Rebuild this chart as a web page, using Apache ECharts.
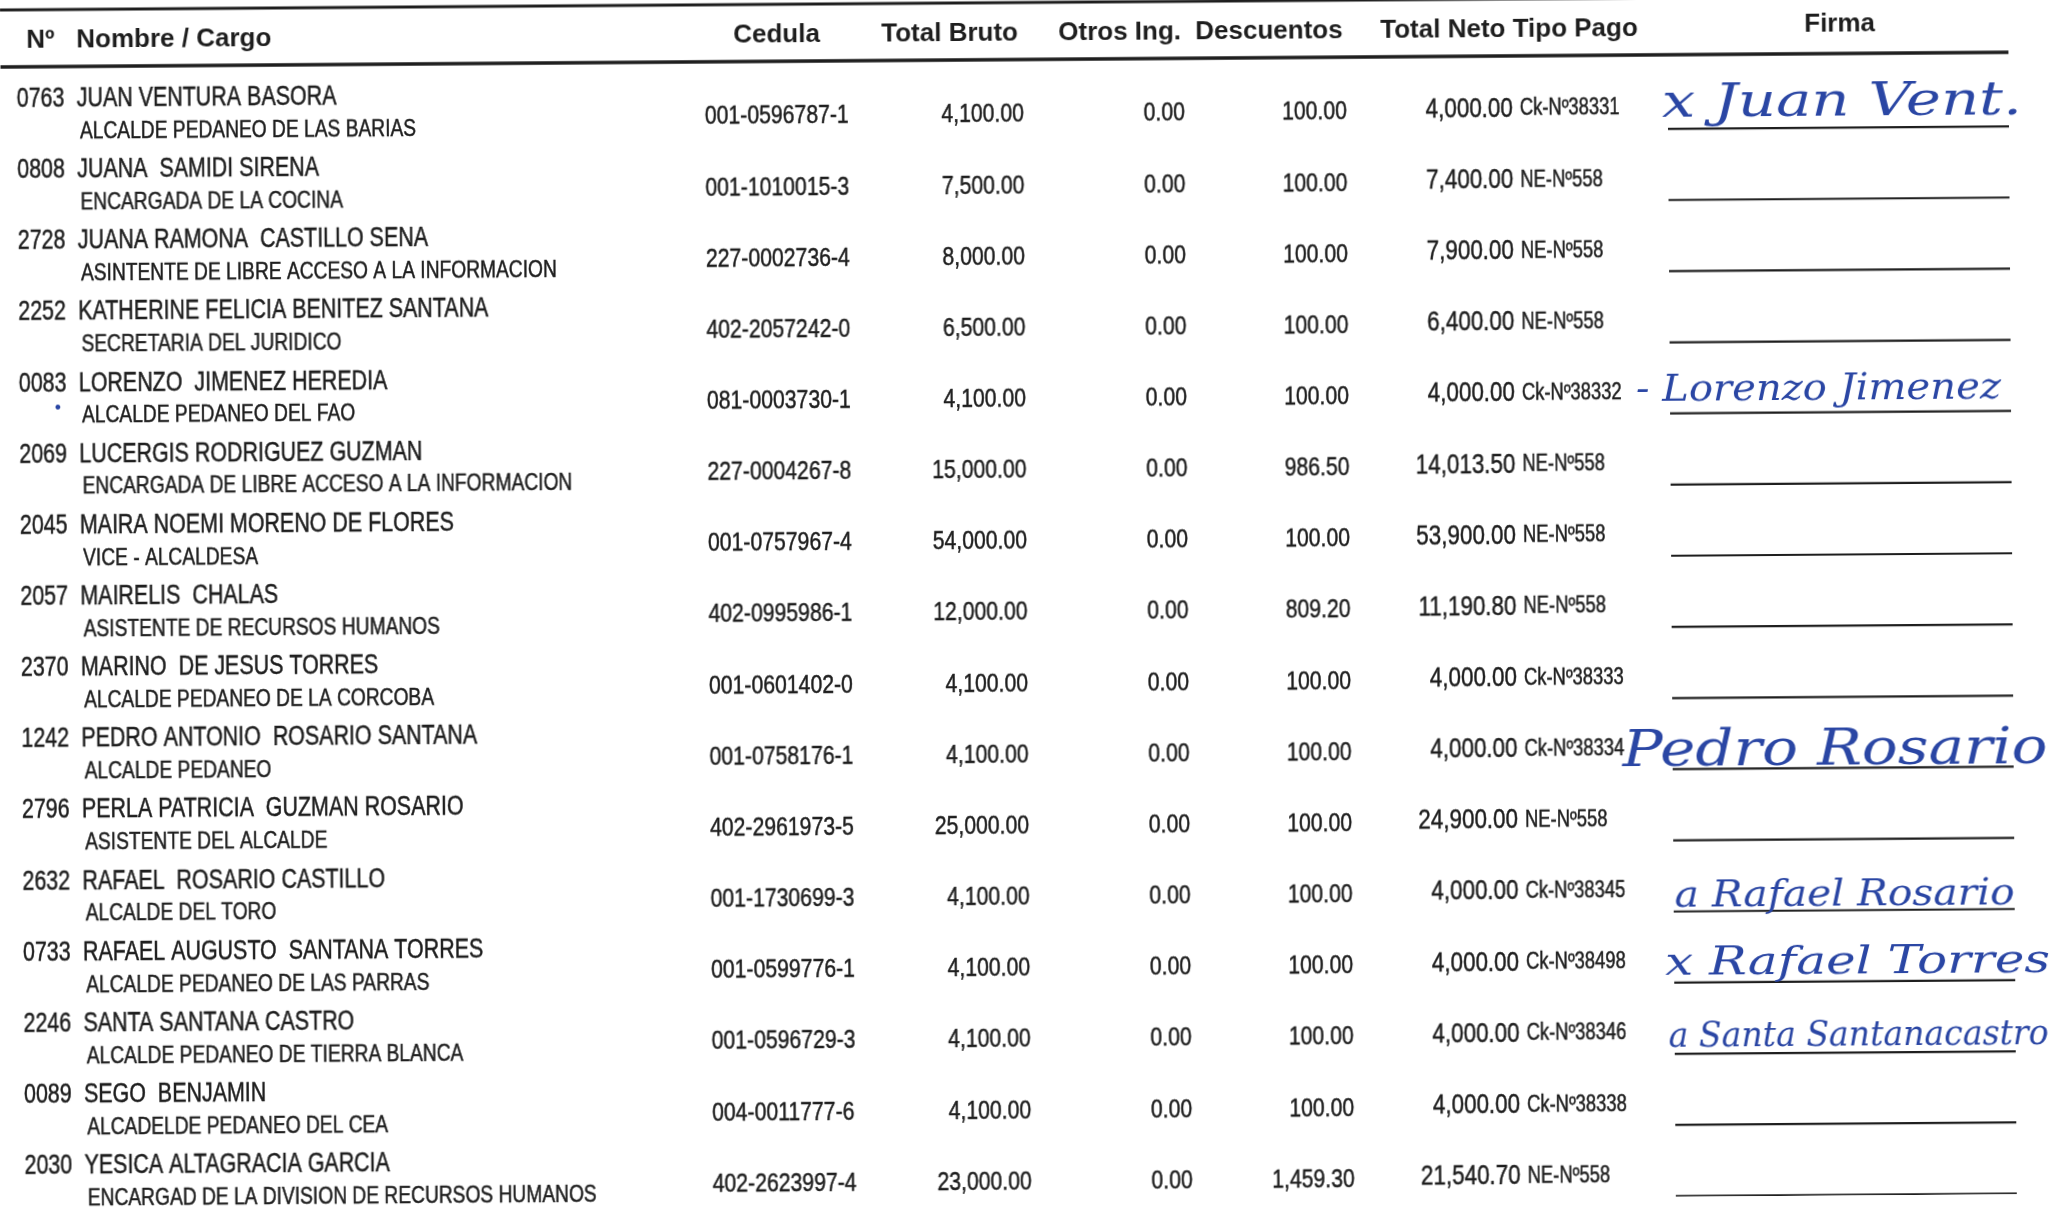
<!DOCTYPE html>
<html><head><meta charset="utf-8">
<script src="https://cdn.jsdelivr.net/npm/echarts@6/dist/echarts.min.js"></script>
<style>
html,body{margin:0;padding:0;background:#fff;overflow:hidden}
#chart{width:2053px;height:1209px;transform-origin:0 0;transform:rotate(-0.42deg)}
</style></head><body><div id="chart"></div>
<script>
// ---- data ----
const ids = ['0763','0808','2728','2252','0083','2069','2045','2057','2370','1242','2796','2632','0733','2246','0089','2030'];
const nombres = ['JUAN VENTURA BASORA','JUANA  SAMIDI SIRENA','JUANA RAMONA  CASTILLO SENA','KATHERINE FELICIA BENITEZ SANTANA','LORENZO  JIMENEZ HEREDIA','LUCERGIS RODRIGUEZ GUZMAN','MAIRA NOEMI MORENO DE FLORES','MAIRELIS  CHALAS','MARINO  DE JESUS TORRES','PEDRO ANTONIO  ROSARIO SANTANA','PERLA PATRICIA  GUZMAN ROSARIO','RAFAEL  ROSARIO CASTILLO','RAFAEL AUGUSTO  SANTANA TORRES','SANTA SANTANA CASTRO','SEGO  BENJAMIN','YESICA ALTAGRACIA GARCIA'];
const cargos = ['ALCALDE PEDANEO DE LAS BARIAS','ENCARGADA DE LA COCINA','ASINTENTE DE LIBRE ACCESO A LA INFORMACION','SECRETARIA DEL JURIDICO','ALCALDE PEDANEO DEL FAO','ENCARGADA DE LIBRE ACCESO A LA INFORMACION','VICE - ALCALDESA','ASISTENTE DE RECURSOS HUMANOS','ALCALDE PEDANEO DE LA CORCOBA','ALCALDE PEDANEO','ASISTENTE DEL ALCALDE','ALCALDE DEL TORO','ALCALDE PEDANEO DE LAS PARRAS','ALCALDE PEDANEO DE TIERRA BLANCA','ALCADELDE PEDANEO DEL CEA','ENCARGAD DE LA DIVISION DE RECURSOS HUMANOS'];
const cedulas = ['001-0596787-1','001-1010015-3','227-0002736-4','402-2057242-0','081-0003730-1','227-0004267-8','001-0757967-4','402-0995986-1','001-0601402-0','001-0758176-1','402-2961973-5','001-1730699-3','001-0599776-1','001-0596729-3','004-0011777-6','402-2623997-4'];
const totalBruto = [4100,7500,8000,6500,4100,15000,54000,12000,4100,4100,25000,4100,4100,4100,4100,23000];
const otrosIng = [0,0,0,0,0,0,0,0,0,0,0,0,0,0,0,0];
const descuentos = [100,100,100,100,100,986.5,100,809.2,100,100,100,100,100,100,100,1459.3];
const totalNeto = [4000,7400,7900,6400,4000,14013.5,53900,11190.8,4000,4000,24900,4000,4000,4000,4000,21540.7];
const tipoPago = ['Ck-Nº38331','NE-Nº558','NE-Nº558','NE-Nº558','Ck-Nº38332','NE-Nº558','NE-Nº558','NE-Nº558','Ck-Nº38333','Ck-Nº38334','NE-Nº558','Ck-Nº38345','Ck-Nº38498','Ck-Nº38346','Ck-Nº38338','NE-Nº558'];
const firmas = ['x Juan Vent.','','','','- Lorenzo Jimenez','','','','','Pedro Rosario','','a Rafael Rosario','x Rafael Torres','a Santa Santanacastro','',''];
const encabezados = ['Nº','Nombre / Cargo','Cedula','Total Bruto','Otros Ing.','Descuentos','Total Neto Tipo Pago','Firma'];

// ---- layout / style ----
const INK = '#1e1e1e', BLUE = '#2a46a4';
const NARROW = 0.8;
const FF = '"Liberation Sans", Arial, sans-serif';
const F_NAME = '26.8px ' + FF, F_CARGO = '24px ' + FF, F_NUM = '26.5px ' + FF, F_NETO = '28px ' + FF, F_TIPO = '23px ' + FF;
const F_HEAD = 'bold 26px ' + FF;
const COL = {id:16, name:76, cargo:79, cedula:704, bruto:1023, otros:1184, desc:1346, neto:1512, tipo:1519, sigL:1667, sigR:2008};
const DY = {cargo:32.5, num:22.5, neto:20.5, line:41.5};
const HEAD_X = [26, 76, 733, 881, 1058, 1195, 1380, 1804];
const HEAD_Y = [41, 41, 41, 41, 41, 41, 41, 37.5];
const SIG = {0:{x:1661,dy:17,w:360,size:46}, 4:{x:1633,dy:19,w:365,size:38}, 9:{x:1617,dy:25,w:425,size:50},
             11:{x:1668,dy:27,w:340,size:38}, 12:{x:1658,dy:23,w:385,size:40}, 13:{x:1661,dy:25,w:380,size:36}};
const MARCAS = {4:{x:55, dy:25, text:'•'}};
const SIG_FONT = s => 'italic ' + s + 'px "DejaVu Serif", serif';

const mctx = document.createElement('canvas').getContext('2d');
function measure(text, font){ mctx.font = font; return mctx.measureText(text).width; }
function fmt(v){ const s = v.toFixed(2).split('.'); return s[0].replace(/\B(?=(\d{3})+(?!\d))/g, ',') + '.' + s[1]; }

const chart = echarts.init(document.getElementById('chart'), null, {renderer:'canvas'});
const P = 71.15;
chart.setOption({
  animation:false,
  backgroundColor:'#ffffff',
  grid:{left:0, right:0, top:99.6 - P/2, height:P*ids.length},
  xAxis:{type:'value', min:0, max:2053, show:false},
  yAxis:{type:'category', data:ids, inverse:true, show:false},
  graphic:[
    {type:'line', shape:{x1:0,y1:10,x2:2008,y2:10}, style:{stroke:INK, lineWidth:3}},
    {type:'line', shape:{x1:0,y1:67,x2:2008,y2:67}, style:{stroke:INK, lineWidth:3.5}}
  ].concat(encabezados.map((h,k)=>({type:'text', x:HEAD_X[k], y:HEAD_Y[k],
      style:{text:h, font:F_HEAD, fill:INK, align:'left', verticalAlign:'middle'}}))),
  series:[{
    type:'custom', clip:false,
    data: ids.map((d,i)=>[0,i]),
    encode:{x:0, y:1},
    renderItem:function(params, api){
      const i = params.dataIndex;
      const y0 = api.coord([0, i])[1];
      const X = v => api.coord([v, i])[0];
      const T = (x, dy, text, font, align, sx, fill) => ({type:'text', x:X(x), y:y0+dy, scaleX:sx,
          style:{text:text, font:font, fill:fill||INK, stroke:fill||INK, lineWidth:0.5, align:align, verticalAlign:'middle'}});
      const kids = [
        T(COL.id, 0, ids[i], F_NAME, 'left', NARROW),
        T(COL.name, 0, nombres[i], F_NAME, 'left', NARROW),
        T(COL.cargo, DY.cargo, cargos[i], F_CARGO, 'left', NARROW),
        T(COL.cedula, DY.num, cedulas[i], F_NUM, 'left', NARROW),
        T(COL.bruto, DY.num, fmt(totalBruto[i]), F_NUM, 'right', NARROW),
        T(COL.otros, DY.num, fmt(otrosIng[i]), F_NUM, 'right', NARROW),
        T(COL.desc, DY.num, fmt(descuentos[i]), F_NUM, 'right', NARROW),
        T(COL.neto, DY.neto, fmt(totalNeto[i]), F_NETO, 'right', NARROW),
        T(COL.tipo, DY.neto, tipoPago[i], F_TIPO, 'left', NARROW),
        {type:'line', shape:{x1:X(COL.sigL), y1:y0+DY.line, x2:X(COL.sigR), y2:y0+DY.line},
          style:{stroke:INK, lineWidth:2.2}}
      ];
      if (firmas[i] && SIG[i]) {
        const s = SIG[i], f = SIG_FONT(s.size);
        const sx = s.w / measure(firmas[i], f);
        kids.push({type:'text', x:X(s.x), y:y0+s.dy, scaleX:sx,
          style:{text:firmas[i], font:f, fill:BLUE, align:'left', verticalAlign:'middle'}});
      }
      if (MARCAS[i]) {
        const m = MARCAS[i];
        kids.push({type:'text', x:X(m.x), y:y0+m.dy,
          style:{text:m.text, font:'18px ' + FF, fill:BLUE, align:'center', verticalAlign:'middle'}});
      }
      return {type:'group', children:kids};
    }
  }]
});
</script></body></html>
